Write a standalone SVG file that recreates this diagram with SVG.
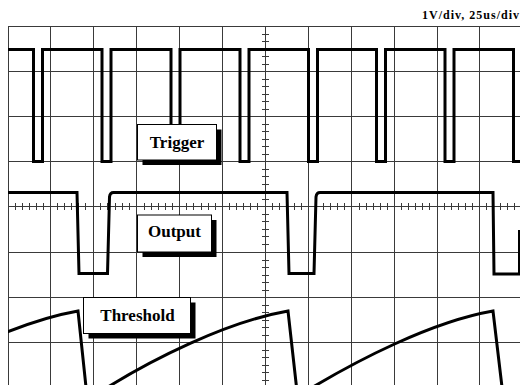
<svg xmlns="http://www.w3.org/2000/svg" width="520" height="385" viewBox="0 0 520 385">
<style>
.grid{stroke:#3a3a3a;stroke-width:1;fill:none}
.tick{stroke:#3a3a3a;stroke-width:1;fill:none}
.trace{stroke:#000;stroke-width:3;fill:none;stroke-linejoin:miter;stroke-linecap:butt}
.box{fill:#fff;stroke:#000;stroke-width:1}
.shadow{fill:#000}
.lbl{font-family:"Liberation Serif","Times New Roman",serif;font-weight:bold;font-size:17px;fill:#000;text-anchor:middle}
.title{font-family:"Liberation Serif","Times New Roman",serif;font-weight:bold;font-size:12px;fill:#000;text-anchor:end}
</style>
<defs>
<clipPath id="plot"><rect x="8" y="0" width="520" height="385"/></clipPath>
</defs>
<rect width="520" height="385" fill="#fff"/>
<text class="title" x="519" y="19" textLength="97" lengthAdjust="spacing">1V/div, 25us/div</text>
<g id="grid">
<path class="grid" d="M8.5,26.5V385 M50.5,26.5V385 M93.5,26.5V385 M136.5,26.5V385 M179.5,26.5V385 M222.5,26.5V385 M265.5,26.5V385 M308.5,26.5V385 M351.5,26.5V385 M394.5,26.5V385 M437.5,26.5V385 M479.5,26.5V385"/>
<path class="grid" d="M8,26.5H520 M8,71.5H520 M8,116.5H520 M8,161.5H520 M8,206.5H520 M8,252.5H520 M8,297.5H520 M8,342.5H520"/>
<path class="tick" d="M15.5,203v7 M22.5,203v7 M29.5,203v7 M36.5,203v7 M43.5,203v7 M57.5,203v7 M64.5,203v7 M71.5,203v7 M78.5,203v7 M85.5,203v7 M100.5,203v7 M107.5,203v7 M115.5,203v7 M122.5,203v7 M129.5,203v7 M144.5,203v7 M151.5,203v7 M158.5,203v7 M165.5,203v7 M172.5,203v7 M186.5,203v7 M193.5,203v7 M201.5,203v7 M208.5,203v7 M215.5,203v7 M229.5,203v7 M236.5,203v7 M243.5,203v7 M250.5,203v7 M257.5,203v7 M272.5,203v7 M279.5,203v7 M287.5,203v7 M294.5,203v7 M301.5,203v7 M316.5,203v7 M323.5,203v7 M330.5,203v7 M337.5,203v7 M344.5,203v7 M359.5,203v7 M366.5,203v7 M373.5,203v7 M380.5,203v7 M387.5,203v7 M401.5,203v7 M408.5,203v7 M415.5,203v7 M422.5,203v7 M429.5,203v7 M444.5,203v7 M451.5,203v7 M458.5,203v7 M465.5,203v7 M472.5,203v7 M486.5,203v7 M493.5,203v7 M500.5,203v7 M507.5,203v7 M514.5,203v7"/>
<path class="tick" d="M262,34.5h7 M262,41.5h7 M262,49.5h7 M262,56.5h7 M262,64.5h7 M262,79.5h7 M262,86.5h7 M262,94.5h7 M262,101.5h7 M262,109.5h7 M262,124.5h7 M262,131.5h7 M262,139.5h7 M262,146.5h7 M262,154.5h7 M262,169.5h7 M262,176.5h7 M262,184.5h7 M262,191.5h7 M262,199.5h7 M262,214.5h7 M262,221.5h7 M262,229.5h7 M262,236.5h7 M262,244.5h7 M262,260.5h7 M262,267.5h7 M262,275.5h7 M262,282.5h7 M262,290.5h7 M262,305.5h7 M262,312.5h7 M262,320.5h7 M262,327.5h7 M262,335.5h7 M262,350.5h7 M262,357.5h7 M262,365.5h7 M262,372.5h7 M262,380.5h7"/>
</g>
<g id="connectors">
<path id="trigger-trace" class="trace" d="M8,49.5 H33.5 V161.5 H42.5 V49.5 H102 V161.5 H111 V49.5 H171 V161.5 H180 V49.5 H240 V161.5 H249 V49.5 H308.5 V161.5 H317.5 V49.5 H376.5 V161.5 H385.5 V49.5 H445 V161.5 H454 V49.5 H513.5 V161.5 H523"/>
<path id="output-trace" class="trace" d="M8,192.5 H77 L79,273.5 H107.5 L109.5,197 Q110,192.5 113.5,192.5 H287 L289,273.5 H314 L316,197 Q316.5,192.5 320,192.5 H493 L494,274 H519.5 V230"/>
<path id="threshold-trace" class="trace" clip-path="url(#plot)" d="M-100,385 C-60,362 15,322 78,311 L86,387 M108,387 C150,361 225,322 288,311 L296.5,387 M313,387 C355,362 430,322 493,311 L502,387"/>
</g>
<g id="trigger-label">
<rect class="shadow" x="142.5" y="129.5" width="79" height="35.5"/>
<rect class="box" x="137.5" y="124.5" width="79" height="35.5"/>
<text class="lbl" x="177" y="148">Trigger</text>
</g>
<g id="output-label">
<rect class="shadow" x="142.5" y="220" width="74" height="37"/>
<rect class="box" x="137.5" y="215" width="74" height="37"/>
<text class="lbl" x="174.5" y="237">Output</text>
</g>
<g id="threshold-label">
<rect class="shadow" x="88.5" y="302.5" width="107" height="36"/>
<rect class="box" x="83.5" y="297.5" width="107" height="36"/>
<text class="lbl" x="137.5" y="321">Threshold</text>
</g>
</svg>
